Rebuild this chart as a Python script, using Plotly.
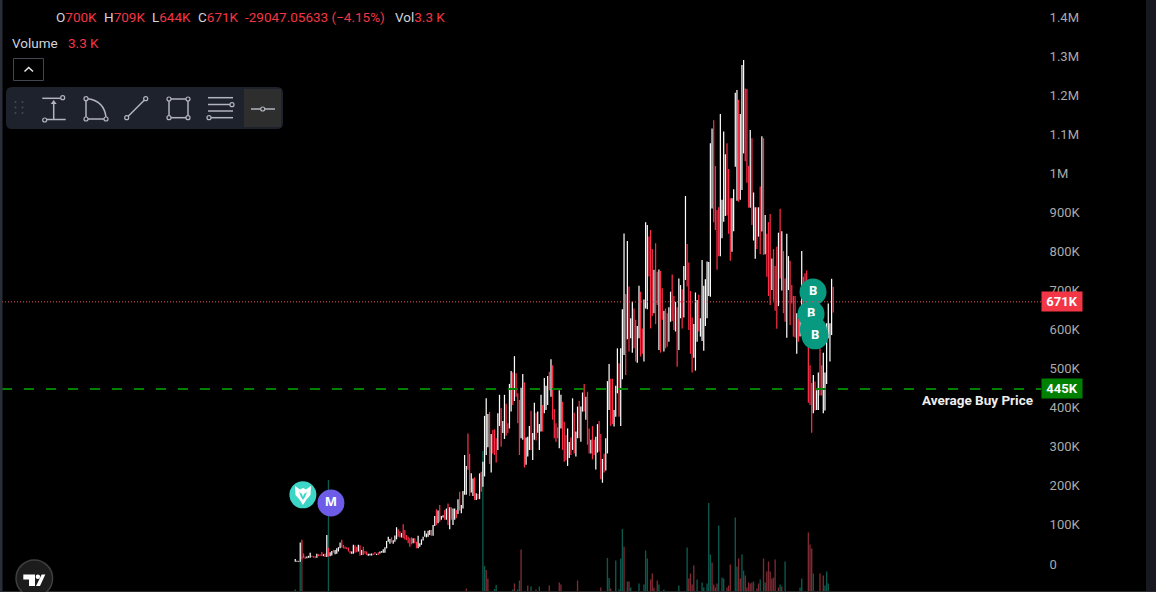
import plotly.graph_objects as go

W, H = 1156, 592

# prices in K
highs = [
    13, 8, 8, 55, 62, 27, 19, 19, 21, 29,
    21, 20, 20, 26, 25, 24, 31, 25, 27, 74,
    42, 30, 33, 36, 36, 40, 43, 55, 62, 49, 45,
    43, 42, 33, 32, 49, 48, 44, 49, 48, 36, 44,
    33, 32, 26, 26, 27, 27, 31, 26, 30, 32, 33,
    38, 43, 59, 70, 64, 68, 61, 73, 94, 89, 84,
    79, 102, 87, 74, 70, 66, 68, 66, 66, 57, 72,
    53, 63, 70, 85, 78, 85, 87, 87, 100, 123, 140,
    137, 151, 123, 125, 138, 142, 155, 145, 145, 142, 142,
    138, 166, 185, 151, 187, 279, 251, 334, 282, 232,
    219, 222, 181, 179, 232, 236, 262, 379, 424, 384,
    389, 333, 343, 345, 322, 386, 433, 399, 366, 433,
    410, 360, 461, 494, 490, 532, 488, 437, 420, 451,
    486, 465, 324, 326, 353, 392, 335, 413, 387, 390,
    358, 433, 407, 476, 456, 481, 492, 524, 509, 397,
    360, 350, 445, 433, 415, 364, 330, 347, 312, 324,
    424, 387, 339, 403, 417, 403, 439, 461, 428, 441,
    347, 318, 353, 318, 326, 358, 366, 333, 269, 282,
    322, 468, 512, 474, 474, 394, 456, 552, 514, 552,
    652, 846, 691, 827, 710, 629, 671, 654, 625, 609,
    712, 697, 603, 677, 875, 868, 838, 855, 806, 753,
    821, 748, 754, 750, 706, 648, 654, 642, 657, 697,
    741, 686, 671, 657, 731, 714, 703, 763, 942, 819,
    772, 699, 631, 614, 695, 676, 689, 629, 778, 712,
    729, 774, 773, 1077, 1115, 1136, 1019, 906, 913, 1152,
    932, 1107, 1049, 1077, 1011, 936, 936, 959, 1206, 1213,
    1188, 1152, 1277, 1290, 1217, 1216, 1019, 1111, 1090, 951,
    913, 913, 913, 966, 1095, 1090, 893, 845, 875, 896,
    782, 806, 763, 812, 848, 909, 852, 801, 731, 845,
    788, 776, 714, 686, 686, 642, 642, 642, 801, 735,
    744, 751, 599, 509, 463, 484, 467, 445, 490, 552,
    509, 541, 490, 616, 667, 616, 730, 709,
]
lows = [
    6, 6, 6, 6, 12, 15, 13, 15, 16, 16,
    18, 16, 15, 16, 20, 21, 20, 20, 18, 18,
    19, 20, 22, 29, 25, 26, 32, 40, 42, 40, 39,
    38, 32, 27, 26, 26, 29, 30, 32, 21, 23, 23,
    26, 23, 21, 22, 22, 23, 24, 23, 23, 27, 29,
    29, 29, 40, 57, 52, 55, 52, 57, 63, 70, 68,
    68, 66, 63, 61, 53, 44, 50, 53, 53, 40, 40,
    44, 49, 60, 70, 68, 70, 74, 72, 72, 97, 100,
    104, 108, 113, 119, 113, 113, 100, 89, 113, 100, 113,
    117, 128, 137, 130, 142, 177, 177, 241, 174, 183,
    174, 164, 164, 166, 166, 185, 198, 224, 279, 299,
    256, 234, 283, 279, 260, 292, 353, 300, 335, 320,
    328, 335, 347, 390, 407, 417, 428, 360, 279, 322,
    318, 247, 254, 275, 292, 292, 266, 318, 316, 336,
    292, 339, 339, 386, 394, 407, 445, 428, 369, 322,
    313, 322, 296, 347, 292, 262, 265, 251, 271, 279,
    292, 283, 275, 322, 322, 313, 390, 390, 369, 305,
    283, 283, 268, 279, 242, 285, 288, 217, 208, 234,
    239, 283, 394, 353, 358, 352, 377, 437, 377, 353,
    473, 535, 484, 575, 544, 578, 541, 552, 518, 515,
    578, 531, 538, 518, 654, 652, 736, 603, 635, 642,
    614, 663, 548, 541, 625, 544, 552, 556, 569, 620,
    622, 599, 595, 505, 548, 629, 603, 631, 727, 710,
    599, 538, 490, 528, 495, 569, 595, 582, 571, 546,
    609, 629, 686, 684, 910, 875, 855, 753, 788, 788,
    834, 876, 891, 892, 845, 776, 799, 852, 1017, 930,
    927, 932, 957, 1051, 1031, 976, 912, 912, 868, 828,
    781, 806, 838, 793, 851, 791, 793, 735, 686, 663,
    701, 674, 648, 602, 660, 731, 700, 642, 620, 579,
    701, 612, 667, 582, 580, 538, 569, 582, 599, 599,
    693, 718, 413, 407, 336, 386, 393, 394, 394, 431,
    431, 386, 393, 461, 578, 518, 586, 644,
]
# W = up candle, R = down candle
directions = (
    "WWWWRRRWWW" "RRRWRRRWRW" "RWWRWWWWRRR" "RRRWWRRWRWR" "RRWWWRRWRWW"
    "WWWWWRWWWRR" "WRRRRRRWRRW" "WWWWWWWRWWR" "WRWWRWRWRWW" "RWRWWWWRRW"
    "WRWRWRWWWW" "RWRRRWWRWW" "RRWWRWRRRW" "WRWWWRWWRW" "WWRWWWRWRR"
    "RRWWRRRWWR" "WRWWRWWRWR" "RWRRWWRRWR" "WWWRRWWWRW" "WWRWRWWRRW"
    "WRRWWWRRRW" "RRWRRWRRWW" "RRWRWWRWWR" "RRRWWWRWWW" "WWWWWRRRRW"
    "WWWRRRWWWW" "RWWWRRRWRW" "WRWRWRWRRR" "WRRRWRWRRW" "WRRRRWRWWR"
    "RRRRRWRWWR" "RWWWWWWR"
)

# volume in K, only candles with a visible bar
volume_index = [
    0, 3, 4, 20, 103, 113, 114, 115, 116, 120, 121, 131, 132, 134, 135, 136, 140, 142, 145, 147,
    153, 159, 160, 170, 184, 188, 189, 190, 193, 195, 196, 197, 198, 200, 201, 202, 207, 210, 211, 212,
    214, 215, 216, 218, 219, 222, 231, 236, 237, 238, 239, 240, 242, 245, 246, 248, 249, 250, 251, 252,
    253, 254, 255, 257, 258, 260, 261, 262, 265, 266, 267, 268, 269, 270, 271, 272, 273, 274, 275, 276,
    278, 279, 280, 282, 283, 284, 285, 286, 287, 288, 289, 291, 292, 293, 295, 304, 305, 309, 310, 311,
    312, 316, 318, 319, 320, 321,
]
volume_values = [
    3, 60, 70, 222, 5, 280, 50, 42, 25, 4, 12, 3, 15, 3, 21, 83, 11, 9, 3, 9,
    11, 17, 13, 21, 7, 66, 26, 5, 61, 3, 65, 124, 89, 19, 19, 7, 15, 13, 81, 65,
    23, 35, 7, 21, 13, 3, 11, 87, 25, 35, 13, 51, 23, 17, 7, 15, 176, 73, 57, 13,
    7, 15, 131, 27, 25, 7, 11, 53, 147, 49, 65, 25, 73, 41, 31, 7, 17, 15, 17, 19,
    5, 15, 23, 65, 17, 39, 59, 39, 25, 27, 63, 7, 13, 9, 59, 7, 25, 117, 93, 85,
    35, 35, 31, 11, 39, 15,
]
volume_up = [
    1, 1, 0, 1, 0, 1, 1, 0, 0, 1, 1, 1, 0, 1, 1, 0, 0, 1, 0, 1,
    0, 0, 0, 0, 0, 1, 1, 0, 1, 1, 1, 1, 0, 1, 0, 1, 1, 1, 1, 1,
    0, 0, 0, 0, 1, 1, 1, 1, 0, 0, 0, 0, 1, 1, 1, 1, 1, 1, 0, 0,
    0, 0, 1, 1, 1, 0, 0, 0, 1, 1, 0, 0, 1, 1, 0, 0, 0, 0, 0, 1,
    0, 0, 1, 0, 1, 0, 0, 0, 0, 0, 0, 0, 1, 0, 1, 1, 1, 0, 0, 0,
    1, 0, 0, 1, 1, 1,
]

price_ticks = [0, 100, 200, 300, 400, 500, 600, 700, 800, 900, 1000, 1100, 1200, 1300, 1400]
price_labels = ["0", "100K", "200K", "300K", "400K", "500K", "600K", "700K", "800K", "900K",
                "1M", "1.1M", "1.2M", "1.3M", "1.4M"]

last_price = 671
avg_buy_price = 448  # label rounds it to 445K on the chart

# trade marks on the chart: index, price, letter, colour
trade_index = [4.6, 21.5, 310.6, 312, 311.8, 313]
trade_price = [177, 156, 640, 600, 696, 584]
trade_text = ["", "M", "B", "", "B", "B"]
trade_color = ["#3dd6c6", "#6c5ce7", "#089981", "#089981", "#089981", "#089981"]

RED = "#f23645"
GREY_TEXT = "#d1d4dc"
FONT = "Roboto"


def px(x):
    return x / W


def py(y):
    return 1 - y / H


def line(x0, y0, x1, y1, color="#b2b5be", width=1.5):
    return dict(type="line", xref="paper", yref="paper", x0=px(x0), y0=py(y0), x1=px(x1), y1=py(y1),
                line=dict(color=color, width=width))


def rect(x0, y0, x1, y1, fill, color=None, width=0):
    return dict(type="rect", xref="paper", yref="paper", x0=px(x0), y0=py(y0), x1=px(x1), y1=py(y1),
                fillcolor=fill, line=dict(color=color or fill, width=width))


def circle(cx, cy, r, fill="rgba(0,0,0,0)", color="#b2b5be", width=1.2):
    return dict(type="circle", xref="paper", yref="paper", x0=px(cx - r), y0=py(cy - r),
                x1=px(cx + r), y1=py(cy + r), fillcolor=fill, line=dict(color=color, width=width))


def poly(points, fill="#ffffff", closed=True):
    path = "M" + " L".join(f"{px(x):.5f},{py(y):.5f}" for x, y in points) + (" Z" if closed else "")
    return dict(type="path", xref="paper", yref="paper", path=path, fillcolor=fill, line=dict(width=0))


def text(x, y, s, size=13.5, color=GREY_TEXT, anchor="left"):
    return dict(x=px(x), y=py(y), xref="paper", yref="paper", text=s, showarrow=False, xanchor=anchor,
                yanchor="middle", font=dict(family=FONT, size=size, color=color))


def red(s):
    return f'<span style="color:{RED}">{s}</span>'


index = list(range(len(highs)))
spans = [hi - lo for hi, lo in zip(highs, lows)]

fig = go.Figure()

# alpha just below 1 makes plotly round bar edges instead of widening thin bars to 2px
fig.add_trace(go.Bar(
    x=volume_index, y=volume_values, width=0.82,
    marker=dict(color=["rgba(12,91,79,0.99)" if u else "rgba(126,42,51,0.99)" for u in volume_up], line=dict(width=0)),
    xaxis="x", yaxis="y",
))
# candles show as single thin strokes at this zoom, so low-to-high bars draw them crisply
fig.add_trace(go.Bar(
    x=index, y=spans, base=lows, width=0.74,
    marker=dict(color=["rgba(255,255,255,0.99)" if d == "W" else "rgba(255,48,72,0.99)" for d in directions],
                line=dict(width=0)),
    xaxis="x", yaxis="y2",
))

# each mark is its own trace so a later circle covers the letter below it
for tx, tp, label, color in zip(trade_index, trade_price, trade_text, trade_color):
    fig.add_trace(go.Scatter(
        x=[tx], y=[tp], mode="markers+text", text=[label], textposition="middle center",
        marker=dict(size=27, color=color),
        textfont=dict(family="Noto Sans", size=13, color="#ffffff", weight="bold"),
        xaxis="x", yaxis="y2",
    ))

shapes = [
    # price lines
    dict(type="line", xref="x domain", yref="y2", x0=0, x1=1, y0=last_price, y1=last_price,
         line=dict(color="#f2505f", width=1, dash="1px,2px")),
    dict(type="line", xref="x domain", yref="y2", x0=0, x1=1, y0=avg_buy_price, y1=avg_buy_price,
         line=dict(color="#008000", width=2, dash="10px,12px")),
    # window edges
    rect(0, 0, 2.5, H, "#2a2e39"),
    rect(1146, 0, W, H, "#171820"),
    rect(0, 591, W, H, "#2a2a2a"),
    # collapse button
    dict(type="rect", xref="paper", yref="paper", x0=px(13.5), y0=py(58.5), x1=px(43.5), y1=py(80.5),
         line=dict(color="#434651", width=1)),
    dict(type="path", xref="paper", yref="paper",
         path=f"M{px(24.5)},{py(71.5)} L{px(28.7)},{py(67.5)} L{px(33)},{py(71.5)}",
         line=dict(color="#e8e8e8", width=1.5)),
    # drawing toolbar
    dict(type="path", xref="paper", yref="paper", fillcolor="#1e222d", line=dict(width=0),
         path=" ".join([
             f"M{px(12)},{py(87)} L{px(277)},{py(87)} Q{px(283)},{py(87)} {px(283)},{py(93)}",
             f"L{px(283)},{py(123)} Q{px(283)},{py(129)} {px(277)},{py(129)}",
             f"L{px(12)},{py(129)} Q{px(6)},{py(129)} {px(6)},{py(123)}",
             f"L{px(6)},{py(93)} Q{px(6)},{py(87)} {px(12)},{py(87)} Z",
         ])),
    rect(244, 89, 281, 127, "#2e2e2e"),
]
for gx in (15.5, 22.5):
    for gy in (102, 107.5, 113):
        shapes.append(rect(gx - 0.8, gy - 0.8, gx + 0.8, gy + 0.8, "#4c525e"))

shapes += [
    # measure
    line(42.3, 98.3, 60.5, 98.3), line(46.8, 119.5, 65.7, 119.5), line(53.7, 102, 53.7, 119.5),
    poly([(53.7, 100), (50.7, 104), (56.7, 104)], "#b2b5be"),
    circle(62.7, 97.7, 2), circle(44.7, 120, 2),
    # fan
    line(86, 101, 86, 117), line(88, 119, 104, 119),
    dict(type="path", xref="paper", yref="paper",
         path=f"M{px(88)},{py(98.7)} Q{px(104)},{py(101)} {px(106)},{py(117)}",
         line=dict(color="#b2b5be", width=1.5)),
    circle(86, 98.7, 2), circle(86, 119, 2), circle(106, 119, 2),
    # trend line
    line(128.2, 116.2, 144.2, 100.2), circle(126.7, 117.7, 2), circle(145.7, 98.7, 2),
    # box
    line(171, 99, 186, 99), line(171, 117.7, 186, 117.7), line(169, 101, 169, 115.7), line(188, 101, 188, 115.7),
    circle(169, 99, 2), circle(188, 99, 2), circle(169, 117.7, 2), circle(188, 117.7, 2),
    # horizontal levels
    line(208, 97.7, 233, 97.7), line(208, 104.5, 230, 104.5), line(208, 111, 233, 111), line(211, 117.7, 233, 117.7),
    circle(232, 104.7, 2), circle(209, 117.7, 2),
    # single level
    line(251, 109, 260.7, 109), line(264.7, 109, 275, 109), circle(262.7, 109, 2),
    # eagle badge drawn over its circle
    poly([(295, 486), (300, 489.5), (303, 488), (306, 489.5), (311, 486), (310.5, 495), (306.5, 499.5),
          (303, 505), (299.5, 499.5), (295.5, 495)]),
    poly([(299, 492), (302, 494), (303, 497), (304, 494), (307, 492), (305, 497), (303, 500), (301, 497)], "#3dd6c6"),
    # TradingView badge
    circle(34.3, 578.3, 18.3, "#1c1c1c", "#3f3f3f", 1.5),
    poly([(23.3, 574.5), (35, 574.5), (35, 586), (29, 586), (29, 579.5), (23.3, 579.5)]),
    circle(37.9, 576.8, 2.2, "#ffffff", "#ffffff", 0),
    poly([(41.7, 574.5), (45.3, 574.5), (40, 586), (36, 586)]),
]

annotations = [
    text(54, 17, "O" + red("700K")),
    text(102, 17, "H" + red("709K")),
    text(150, 17, "L" + red("644K")),
    text(196, 17, "C" + red("671K")),
    text(243, 17, red("-29047.05633 (−4.15%)")),
    text(393, 17, "Vol" + red("3.3 K")),
    text(10, 43, "Volume"),
    text(66, 43, red("3.3 K")),
    dict(x=px(1041), y=last_price, xref="paper", yref="y2", text="<b>671K</b>", showarrow=False, xanchor="left",
         yanchor="middle", width=38, height=17, bgcolor=RED, font=dict(family=FONT, size=13, color="#ffffff")),
    dict(x=px(1041), y=avg_buy_price, xref="paper", yref="y2", text="<b>445K</b>", showarrow=False, xanchor="left",
         yanchor="middle", width=38, height=17, bgcolor="#008000", font=dict(family=FONT, size=13, color="#ffffff")),
    text(1035, 400, "<b>Average Buy Price</b>", color="#eeeeee", anchor="right"),
]

fig.update_layout(
    width=W, height=H,
    margin=dict(l=0, r=0, t=0, b=0),
    paper_bgcolor="#000000", plot_bgcolor="#000000",
    showlegend=False, barmode="overlay",
    font=dict(family=FONT, size=13, color="#b2b5be"),
    shapes=shapes, annotations=annotations,
    xaxis=dict(domain=[px(2), px(1041)], range=[-176.6, 449.1], visible=False),
    yaxis=dict(domain=[0, 1], range=[-2, 1182], visible=False),
    yaxis2=dict(
        domain=[0, 1], range=[-71.7, 1443.6], overlaying="y", side="right", anchor="x",
        tickvals=price_ticks, ticktext=price_labels, showgrid=False, zeroline=False, showline=False,
        ticks="outside", ticklen=5, tickcolor="#000000", tickfont=dict(family=FONT, size=13, color="#aaaaaa"),
    ),
)

# the page's default body margin would push the chart 8px off
fig.write_html("out.html", config={"displayModeBar": False},
               post_script="document.body.style.margin='0';document.body.style.background='#000';")
